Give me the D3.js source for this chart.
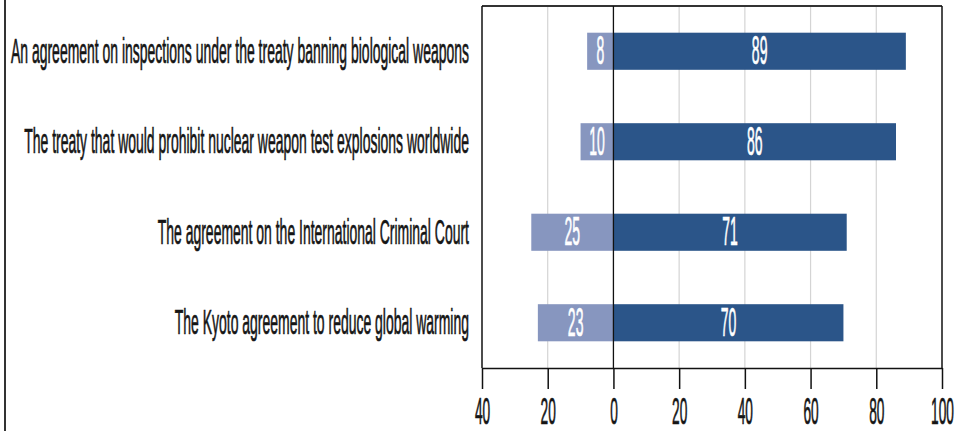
<!DOCTYPE html>
<html>
<head>
<meta charset="utf-8">
<script src="https://cdn.jsdelivr.net/npm/d3@7"></script>
<style>
  html, body { margin: 0; padding: 0; background: #fff; }
  svg { display: block; }
  text { font-family: "Liberation Sans", Arial, Helvetica, sans-serif; }
</style>
</head>
<body>
<svg id="chart" width="961" height="431"></svg>
<script>
// Survey items, top to bottom
const categories = [
  "An agreement on inspections under the treaty banning biological weapons",
  "The treaty that would prohibit nuclear weapon test explosions worldwide",
  "The agreement on the International Criminal Court",
  "The Kyoto agreement to reduce global warming"
];
// Share against (drawn to the left of zero) and in favour (to the right)
const opposeValues = [8, 10, 25, 23];
const supportValues = [89, 86, 71, 70];
// Axis ticks; negative side is labelled with its magnitude
const tickValues = [-40, -20, 0, 20, 40, 60, 80, 100];

const width = 961, height = 431;
const margin = { top: 6, right: 19, bottom: 63, left: 482 };
const plotW = width - margin.left - margin.right;
const plotH = height - margin.top - margin.bottom;

const darkBlue = "#2b5589";
const lightBlue = "#8796bf";
const ink = "#151515";

const svg = d3.select("#chart");

// Condensed type: squeezed glyphs get a hairline outline in screen units
function inked(sel, color) {
  sel.attr("fill", color)
    .attr("stroke", color)
    .attr("stroke-width", 0.55)
    .attr("vector-effect", "non-scaling-stroke");
  return sel;
}

// Left rule of the panel
svg.append("line")
  .attr("x1", 5).attr("x2", 5).attr("y1", 0).attr("y2", height)
  .attr("stroke", "#333").attr("stroke-width", 2);

const g = svg.append("g").attr("transform", `translate(${margin.left},${margin.top})`);

const x = d3.scaleLinear().domain([-40, 100]).range([0, plotW]);
const y = d3.scaleBand().domain(categories).range([0, plotH])
  .paddingInner(0.59).paddingOuter(0.295);

// Light vertical gridlines
g.append("g").selectAll("line")
  .data(tickValues.filter(v => v !== 0 && v !== -40 && v !== 100))
  .join("line")
  .attr("x1", d => x(d)).attr("x2", d => x(d))
  .attr("y1", 0).attr("y2", plotH)
  .attr("stroke", "#d4d4d4").attr("stroke-width", 1.2);

// Bars
g.append("g").selectAll("rect")
  .data(categories)
  .join("rect")
  .attr("x", (d, i) => x(-opposeValues[i]))
  .attr("width", (d, i) => x(0) - x(-opposeValues[i]))
  .attr("y", d => y(d)).attr("height", y.bandwidth())
  .attr("fill", lightBlue);

g.append("g").selectAll("rect")
  .data(categories)
  .join("rect")
  .attr("x", x(0))
  .attr("width", (d, i) => x(supportValues[i]) - x(0))
  .attr("y", d => y(d)).attr("height", y.bandwidth())
  .attr("fill", darkBlue);

// Value labels inside bars
function valueLabel(sel, cx, cy, txt) {
  sel.append("text")
    .attr("transform", `translate(${cx},${cy}) scale(0.35,1)`)
    .attr("text-anchor", "middle")
    .attr("font-size", 40)
    .call(inked, "#fff")
    .text(txt);
}
categories.forEach((c, i) => {
  const cy = y(c) + y.bandwidth() / 2 + 13;
  valueLabel(g, (x(-opposeValues[i]) + x(0)) / 2, cy, opposeValues[i]);
  valueLabel(g, (x(0) + x(supportValues[i])) / 2, cy, supportValues[i]);
});

// Frame: top, left, right
g.append("line").attr("x1", 0).attr("x2", plotW).attr("y1", 0).attr("y2", 0)
  .attr("stroke", "#333").attr("stroke-width", 2);
g.append("line").attr("x1", x(-40)).attr("x2", x(-40)).attr("y1", 0).attr("y2", plotH)
  .attr("stroke", "#111").attr("stroke-width", 1.5);
g.append("line").attr("x1", x(100)).attr("x2", x(100)).attr("y1", 0).attr("y2", plotH)
  .attr("stroke", "#111").attr("stroke-width", 1.5);

// Zero line on top of the bars
g.append("line").attr("x1", x(0)).attr("x2", x(0)).attr("y1", 0).attr("y2", plotH)
  .attr("stroke", "#111").attr("stroke-width", 1.3);

// Bottom axis
const axis = d3.axisBottom(x).tickValues(tickValues).tickSize(21).tickSizeOuter(0)
  .tickFormat(d => Math.abs(d));
const ax = g.append("g").attr("transform", `translate(0,${plotH})`).call(axis);
ax.attr("font-family", null);
ax.select(".domain").attr("stroke", "#111").attr("stroke-width", 1.5);
ax.selectAll(".tick line").attr("stroke", "#111").attr("stroke-width", 1.5);
ax.selectAll(".tick text")
  .attr("y", 0).attr("dy", null)
  .attr("transform", `translate(0,56) scale(0.37,1)`)
  .attr("font-size", 37)
  .call(inked, ink);

// Category labels, right-aligned left of the plot
g.append("g").selectAll("text")
  .data(categories)
  .join("text")
  .attr("transform", d => `translate(-13,${y(d) + y.bandwidth() / 2 + 11.5}) scale(0.388,1)`)
  .attr("text-anchor", "end")
  .attr("font-size", 36)
  .call(inked, ink)
  .text(d => d);
</script>
</body>
</html>
